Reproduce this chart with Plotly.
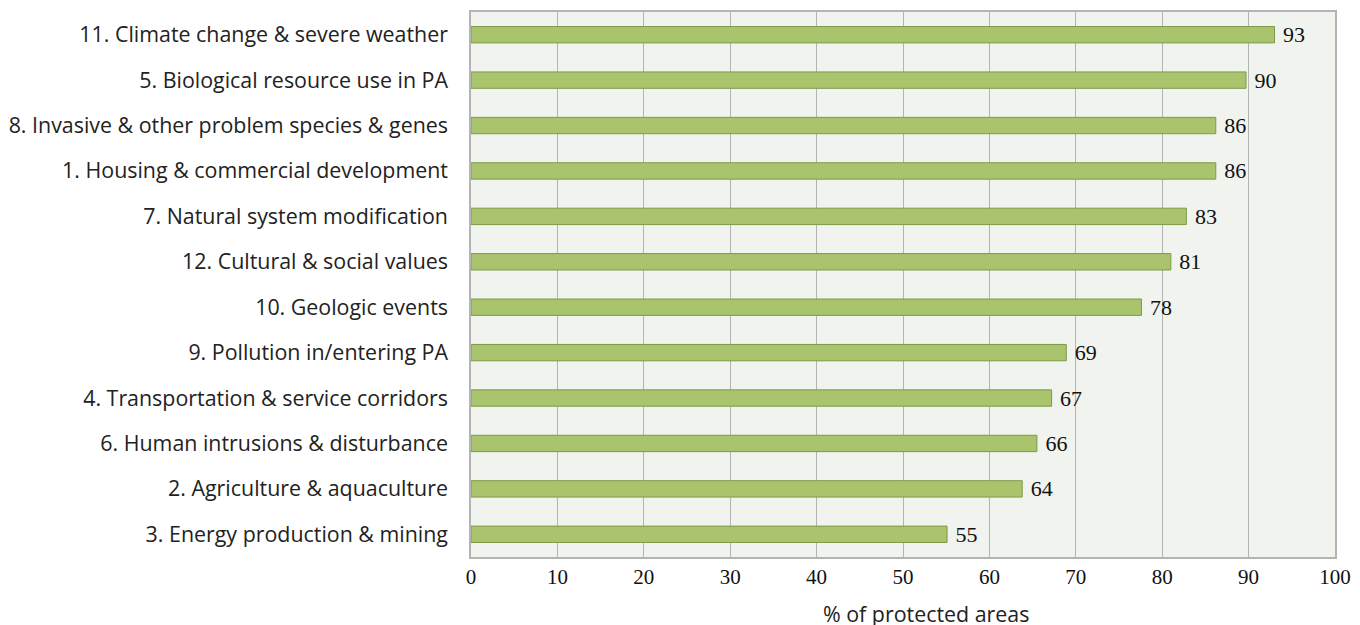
import plotly.graph_objects as go

categories = [
    "3. Energy production & mining",
    "2. Agriculture & aquaculture",
    "6. Human intrusions & disturbance",
    "4. Transportation & service corridors",
    "9. Pollution in/entering PA",
    "10. Geologic events",
    "12. Cultural & social values",
    "7. Natural system modification",
    "1. Housing & commercial development",
    "8. Invasive & other problem species & genes",
    "5. Biological resource use in PA",
    "11. Climate change & severe weather",
]
values = [55.1, 63.8, 65.5, 67.2, 68.9, 77.6, 81.0, 82.8, 86.2, 86.2, 89.7, 93.0]
labels = ["55", "64", "66", "67", "69", "78", "81", "83", "86", "86", "90", "93"]
x_ticks = [0, 10, 20, 30, 40, 50, 60, 70, 80, 90, 100]

fig = go.Figure()
fig.add_trace(go.Bar(
    y=categories, x=values, orientation="h",
    text=labels, texttemplate=" %{text}", textposition="outside", cliponaxis=False,
    constraintext="none",
    textfont=dict(family="Liberation Serif", size=22, color="#111111"),
    marker=dict(color="#A9C46C", line=dict(color="#7E9A48", width=1)),
    width=0.36,
))
fig.update_layout(
    width=1360, height=625,
    margin=dict(l=463, r=33, t=4, b=76),
    paper_bgcolor="white", plot_bgcolor="#F1F3EE",
    showlegend=False,
    font=dict(family="Open Sans", size=21.4, color="#222222"),
    xaxis=dict(range=[0, 100], tickvals=x_ticks, showgrid=True, gridcolor="#B4B4B4",
               gridwidth=1, zeroline=False, showline=True, linecolor="#B4B4B4",
               linewidth=1.5, mirror=True, ticks="", automargin=False,
               tickfont=dict(family="Liberation Serif", size=21, color="#111111")),
    yaxis=dict(showgrid=False, showline=True, linecolor="#B4B4B4", linewidth=1.5,
               mirror=True, ticks="", ticklabelstandoff=17, automargin=False,
               tickfont=dict(family="Open Sans", size=21.4, color="#222222")),
    annotations=[dict(text="% of protected areas",
                      x=(926 - 471) / (1335 - 471), xref="paper",
                      y=-(613 - 557) / (557 - 12), yref="paper", yanchor="middle",
                      showarrow=False,
                      font=dict(family="Open Sans", size=21.4, color="#222222"))],
)
fig.write_html("out.html")
